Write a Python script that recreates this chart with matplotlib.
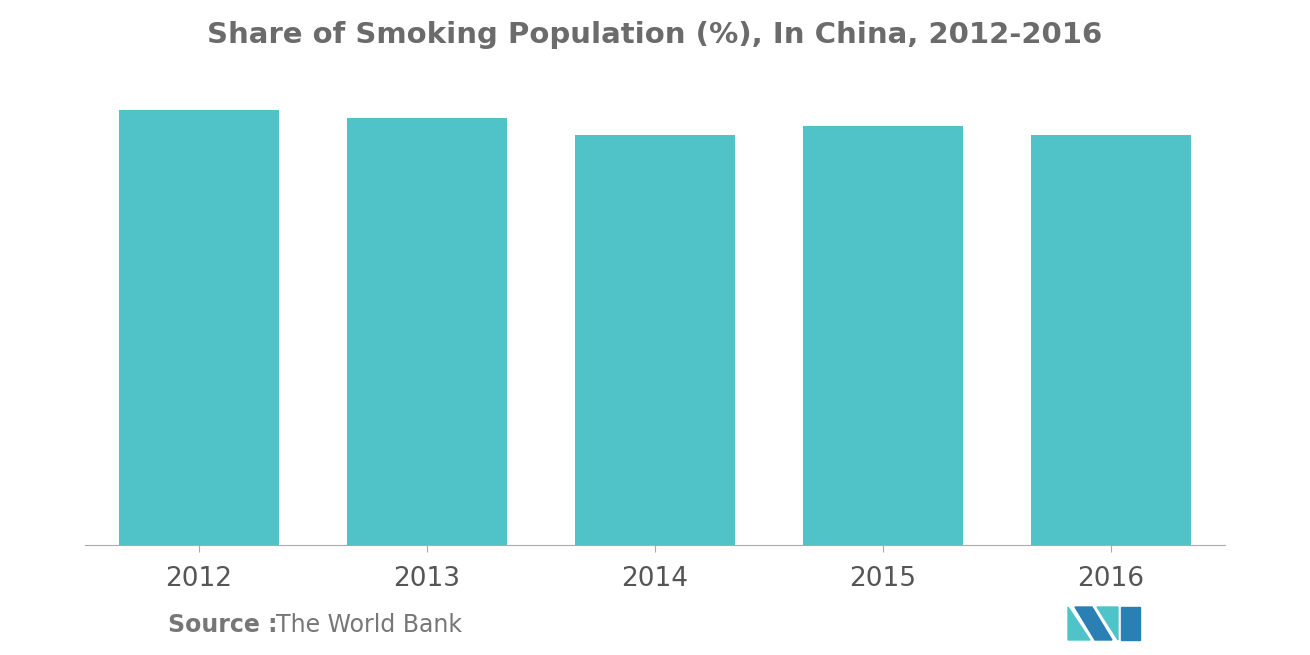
import matplotlib.pyplot as plt
from matplotlib.patches import Polygon

years = ["2012", "2013", "2014", "2015", "2016"]
share = [26.5, 26.0, 25.0, 25.5, 25.0]

W, H = 1310, 655
fig = plt.figure(figsize=(W / 100, H / 100), dpi=100)
ax = fig.add_axes([85 / W, 1 - 545 / H, 1140 / W, 445 / H])

ax.bar(range(len(years)), share, width=0.70, color="#50c3c9")
ax.set_xlim(-0.5, len(years) - 0.5)
ax.set_ylim(0, 26.5 * 445 / 435)
ax.set_xticks(range(len(years)))
ax.set_xticklabels(years, fontsize=19, color="#555555")
ax.tick_params(axis="x", length=5, color="#aaaaaa", pad=10)
ax.set_yticks([])
for s in ["top", "right", "left"]:
    ax.spines[s].set_visible(False)
ax.spines["bottom"].set_color("#aaaaaa")

fig.text(0.5, 1 - 35 / H, "Share of Smoking Population (%), In China, 2012-2016",
         ha="center", va="center", fontsize=21, color="#6b6b6b", fontweight="bold")
fig.text(168 / W, 1 - 625 / H, "Source :", ha="left", va="center",
         fontsize=17, color="#777777", fontweight="bold")
fig.text(276 / W, 1 - 625 / H, "The World Bank", ha="left", va="center",
         fontsize=17, color="#777777")

# logo
def px(pts):
    return [(x / W, 1 - y / H) for x, y in pts]
fig.patches.append(Polygon(px([(1068, 640), (1068, 607), (1090, 640)]), closed=True,
                           color="#50c3c9", transform=fig.transFigure))
fig.patches.append(Polygon(px([(1075, 607), (1092, 607), (1112, 640), (1095, 640)]), closed=True,
                           color="#2a7fb5", transform=fig.transFigure))
fig.patches.append(Polygon(px([(1097, 607), (1118, 640), (1118, 607)]), closed=True,
                           color="#50c3c9", transform=fig.transFigure))
fig.patches.append(Polygon(px([(1121, 607), (1140, 607), (1140, 640), (1121, 640)]), closed=True,
                           color="#2a7fb5", transform=fig.transFigure))

fig.savefig("out.png", dpi=100, facecolor="white")
